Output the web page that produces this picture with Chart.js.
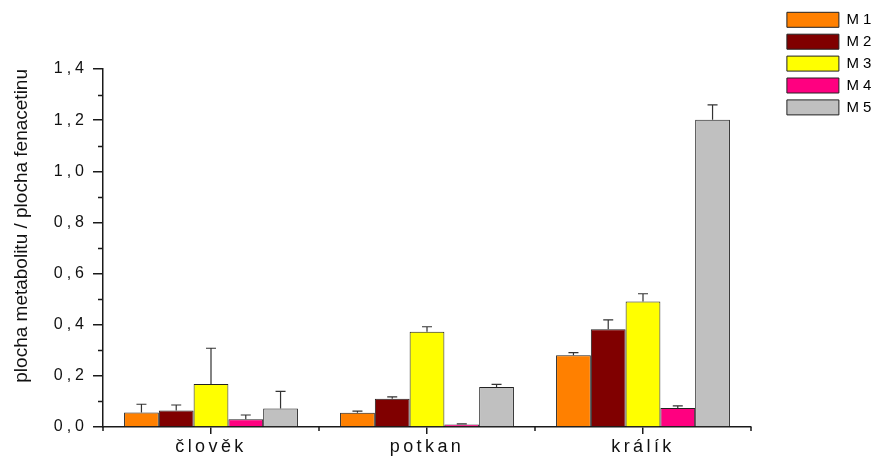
<!DOCTYPE html>
<html>
<head>
<meta charset="utf-8">
<script src="https://cdn.jsdelivr.net/npm/chart.js@4.4.1/dist/chart.umd.min.js"></script>
<style>
  html, body { margin: 0; padding: 0; background: #fff; }
  #wrap { width: 876px; height: 457px; }
</style>
</head>
<body>
<div id="wrap"><canvas id="chart" width="876" height="457"></canvas></div>
<script>
// Species on the x axis
const categories = ['člověk', 'potkan', 'králík'];

// Metabolite series: mean ratio and upper error
const seriesNames = ['M 1', 'M 2', 'M 3', 'M 4', 'M 5'];
const m1 = [0.057, 0.056, 0.281];
const m1Err = [0.032, 0.006, 0.010];
const m2 = [0.065, 0.110, 0.382];
const m2Err = [0.021, 0.008, 0.037];
const m3 = [0.168, 0.372, 0.491];
const m3Err = [0.140, 0.020, 0.030];
const m4 = [0.030, 0.010, 0.074];
const m4Err = [0.017, 0.002, 0.009];
const m5 = [0.072, 0.156, 1.202];
const m5Err = [0.067, 0.011, 0.058];

// Y axis labels (decimal comma)
const yTickLabels = ['0,0', '0,2', '0,4', '0,6', '0,8', '1,0', '1,2', '1,4'];

const seriesValues = [m1, m2, m3, m4, m5];
const seriesErrors = [m1Err, m2Err, m3Err, m4Err, m5Err];
const seriesColors = ['#FF8000', '#800000', '#FFFF00', '#FF0080', '#C0C0C0'];

const AXIS_COLOR = '#1a1a1a';
const FONT = '"Liberation Sans", Arial, sans-serif';

// Wider letter spacing on the axis tick labels
const letterSpacingPlugin = {
  id: 'letterSpacing',
  beforeDraw(chart) {
    const spacing = { x: '3.4px', y: '4px' };
    Object.keys(spacing).forEach(id => {
      const s = chart.scales[id];
      if (!s || s._spaced) return;
      const orig = s.drawLabels;
      s.drawLabels = function (area) {
        const c = this.ctx;
        c.save();
        c.letterSpacing = spacing[id];
        orig.call(this, area);
        c.restore();
      };
      s._spaced = true;
    });
  }
};

// Minor ticks on y, short boundary ticks on x
const minorTicksPlugin = {
  id: 'minorTicks',
  afterDraw(chart) {
    const { ctx, scales: { x, y }, chartArea } = chart;
    ctx.save();
    ctx.strokeStyle = AXIS_COLOR;
    ctx.lineWidth = 1.5;
    ctx.beginPath();
    for (let v = 0.1; v < 1.4; v += 0.2) {
      const py = Math.round(y.getPixelForValue(v)) + 0.5;
      ctx.moveTo(chartArea.left, py);
      ctx.lineTo(chartArea.left - 5, py);
    }
    for (let i = 0; i <= categories.length; i++) {
      const px = x.getPixelForValue(i - 0.5);
      ctx.moveTo(px, chartArea.bottom);
      ctx.lineTo(px, chartArea.bottom + 4);
    }
    ctx.stroke();
    ctx.restore();
  }
};

// Upper error bars with caps
const errorBarsPlugin = {
  id: 'errorBars',
  afterDatasetsDraw(chart) {
    const { ctx, scales: { y } } = chart;
    ctx.save();
    ctx.strokeStyle = '#333';
    ctx.lineWidth = 1.2;
    chart.data.datasets.forEach((ds, di) => {
      const meta = chart.getDatasetMeta(di);
      meta.data.forEach((bar, i) => {
        const top = y.getPixelForValue(ds.data[i] + ds.errors[i]);
        ctx.beginPath();
        ctx.moveTo(bar.x, bar.y);
        ctx.lineTo(bar.x, top);
        ctx.moveTo(bar.x - 5, top);
        ctx.lineTo(bar.x + 5, top);
        ctx.stroke();
      });
    });
    ctx.restore();
  }
};

const datasets = seriesNames.map((name, i) => ({
  label: name,
  data: seriesValues[i],
  errors: seriesErrors[i],
  backgroundColor: seriesColors[i],
  borderColor: '#222',
  borderWidth: 1,
  categoryPercentage: 0.805,
  barPercentage: 1.0
}));

new Chart(document.getElementById('chart'), {
  type: 'bar',
  data: { labels: categories, datasets },
  plugins: [letterSpacingPlugin, minorTicksPlugin, errorBarsPlugin],
  options: {
    responsive: false,
    animation: false,
    devicePixelRatio: 1,
    layout: { padding: { top: 5.4, right: 0, bottom: 0, left: 0 } },
    plugins: {
      tooltip: { enabled: false },
      legend: {
        position: 'right',
        align: 'start',
        maxWidth: 96,
        labels: {
          boxWidth: 52,
          boxHeight: 15,
          padding: 6.9,
          color: '#000',
          font: { family: FONT, size: 15 }
        }
      }
    },
    scales: {
      x: {
        type: 'category',
        offset: true,
        grid: {
          offset: false,
          drawOnChartArea: false,
          tickLength: 7,
          color: AXIS_COLOR,
          lineWidth: 1.5
        },
        border: { display: true, color: AXIS_COLOR, width: 1.5 },
        ticks: {
          padding: 2,
          color: '#111',
          font: { family: FONT, size: 18 }
        },
        afterFit(s) { s.height = 30; }
      },
      y: {
        type: 'linear',
        min: 0,
        max: 1.4,
        grid: {
          drawOnChartArea: false,
          tickLength: 10,
          color: AXIS_COLOR,
          lineWidth: 1.5
        },
        border: { display: true, color: AXIS_COLOR, width: 1.5 },
        ticks: {
          stepSize: 0.2,
          padding: 5,
          color: '#111',
          font: { family: FONT, size: 16 },
          callback: (v, i) => yTickLabels[i]
        },
        title: {
          display: true,
          text: 'plocha metabolitu / plocha fenacetinu',
          align: 'end',
          color: '#111',
          font: { family: FONT, size: 19 },
          padding: { top: 10, bottom: 0 }
        },
        afterFit(s) { s.width = 103; }
      },
      xTop: {
        type: 'linear',
        position: 'top',
        display: true,
        grid: { display: false },
        border: { display: false },
        ticks: { display: false },
        afterFit(s) { s.height = 63.6; }
      },
      yRight: {
        type: 'linear',
        position: 'right',
        display: true,
        grid: { display: false },
        border: { display: false },
        ticks: { display: false },
        afterFit(s) { s.width = 29; }
      }
    }
  }
});
</script>
</body>
</html>
